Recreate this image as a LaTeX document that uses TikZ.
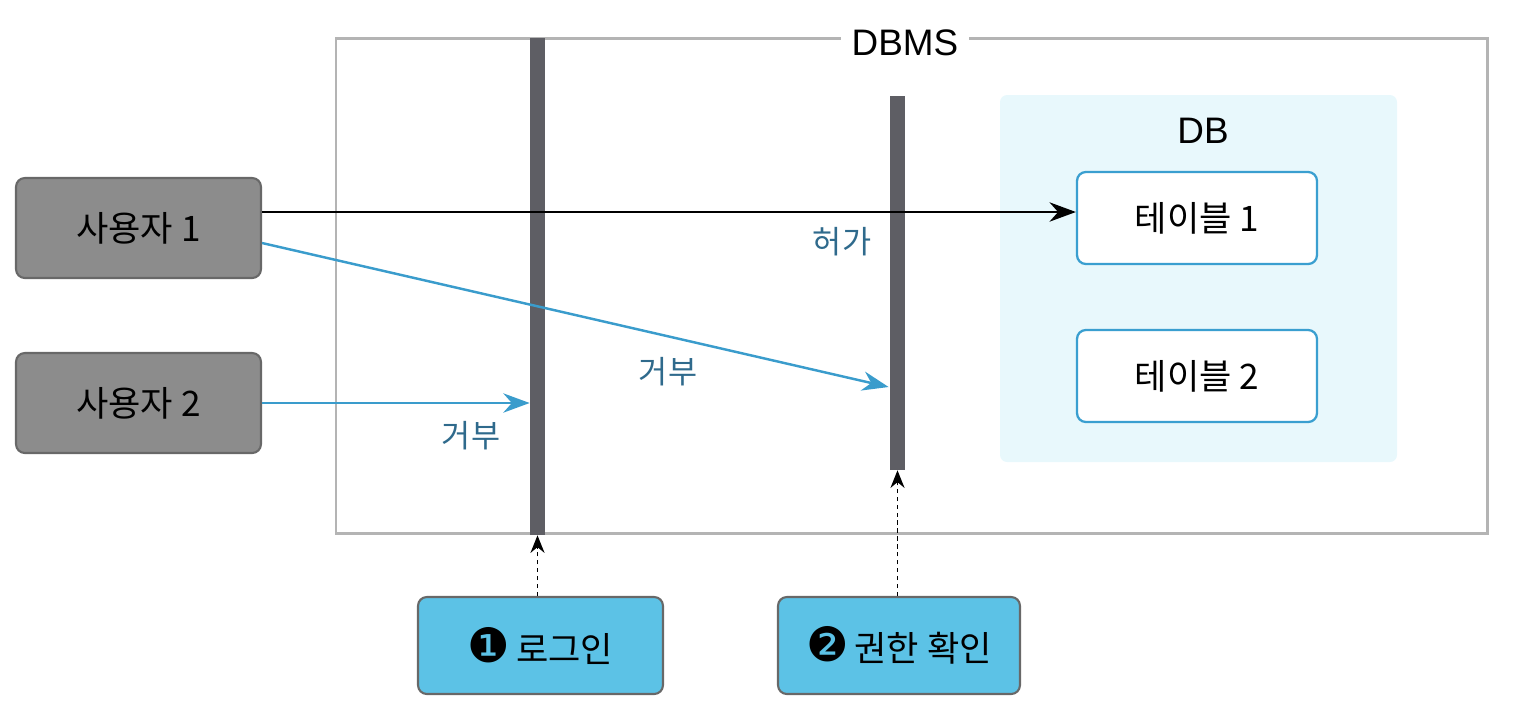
\documentclass[tikz,border=0pt]{standalone}
\usepackage{fontspec}
\setmainfont{Noto Sans CJK KR}
\newfontfamily\latinf{Liberation Sans}
\newfontfamily\dingf{DejaVu Sans}
\usetikzlibrary{arrows.meta,calc}
\definecolor{usergray}{HTML}{8C8C8C}
\definecolor{userborder}{HTML}{686868}
\definecolor{boxblue}{HTML}{5CC2E6}
\definecolor{tblue}{HTML}{3A9FD0}
\definecolor{arrblue}{HTML}{3A9CCC}
\definecolor{lblblue}{HTML}{2F6A8C}
\definecolor{framegray}{HTML}{B4B4B4}
\definecolor{bargray}{HTML}{5E5E64}
\definecolor{dbfill}{HTML}{E8F8FC}
\newcommand\bignum[1]{{\dingf\fontsize{27}{27}\selectfont #1}}
\tikzset{
  userbox/.style={draw=userborder, fill=usergray, line width=1.2pt, rounded corners=5pt,
    minimum width=4.9cm, minimum height=2.0cm, font=\fontsize{20}{24}\selectfont, text=black},
  stepbox/.style={draw=userborder, fill=boxblue, line width=1.2pt, rounded corners=5pt,
    minimum width=4.9cm, minimum height=1.94cm, font=\fontsize{20}{24}\selectfont, text=black},
  tablebox/.style={draw=tblue, fill=white, line width=1.3pt, rounded corners=5pt,
    minimum width=4.8cm, minimum height=1.84cm, font=\fontsize{20}{24}\selectfont},
  barnode/.style={fill=bargray, draw=none, minimum width=0.3cm, inner sep=0pt},
  lbl/.style={text=lblblue, font=\fontsize{18}{22}\selectfont},
  blackarrow/.style={draw=black, line width=1.4pt, -{Stealth[length=15pt,width=11pt]}},
  bluearrow/.style={draw=arrblue, line width=1.4pt, -{Stealth[length=15pt,width=11pt]}},
  dasharrow/.style={draw=black, line width=0.9pt, dash pattern=on 2.5pt off 2pt, -{Stealth[length=10pt,width=8pt]}},
}
\begin{document}
\begin{tikzpicture}[x=0.02cm, y=-0.02cm]
\useasboundingbox (0,0) rectangle (1516,718);
% DB region
\fill[dbfill, rounded corners=4pt] (1000,95) rectangle (1397,462);
\node[font=\latinf\fontsize{21}{25}\selectfont] (dblabel) at (1203,131) {DB};
% DBMS frame
\draw[framegray, line width=1.7pt] (336,38) rectangle (1487,533);
\node[fill=white, inner xsep=6pt, inner ysep=2pt, font=\latinf\fontsize{21}{25}\selectfont] (dbms) at (905,43) {DBMS};
% bars
\node[barnode, minimum height=9.94cm] (bar1) at (537.5,286.5) {};
\node[barnode, minimum height=7.48cm] (bar2) at (897.5,283) {};
% tables
\node[tablebox] (t1) at (1197,218) {테이블 1};
\node[tablebox] (t2) at (1197,376) {테이블 2};
% users
\node[userbox] (u1) at (138.5,228) {사용자 1};
\node[userbox] (u2) at (138.5,403) {사용자 2};
% step boxes
\node[stepbox] (login) at (540.5,645.5) {\bignum{❶}\,로그인};
\node[stepbox, minimum width=4.84cm] (auth) at (899,645.5) {\bignum{❷}\,권한 확인};
% connectors
\coordinate (a1s) at ($(u1.east)+(0,-16)$);
\draw[blackarrow] (a1s) -- (a1s -| t1.west);
\coordinate (a2s) at ($(u1.east)+(0,15)$);
\coordinate (a2e) at ($(bar2.west)+(-1,104)$);
\draw[bluearrow] (a2s) -- (a2e);
\draw[bluearrow] (u2.east) -- (u2.east -| bar1.west);
\draw[dasharrow] (bar1.south |- login.north) -- (bar1.south);
\draw[dasharrow] (bar2.south |- auth.north) -- (bar2.south);
% labels
\node[lbl] (rej1) at (471,436) {거부};
\node[lbl] (rej2) at (668,372) {거부};
\node[lbl] (perm) at (842,242) {허가};
\end{tikzpicture}
\end{document}
